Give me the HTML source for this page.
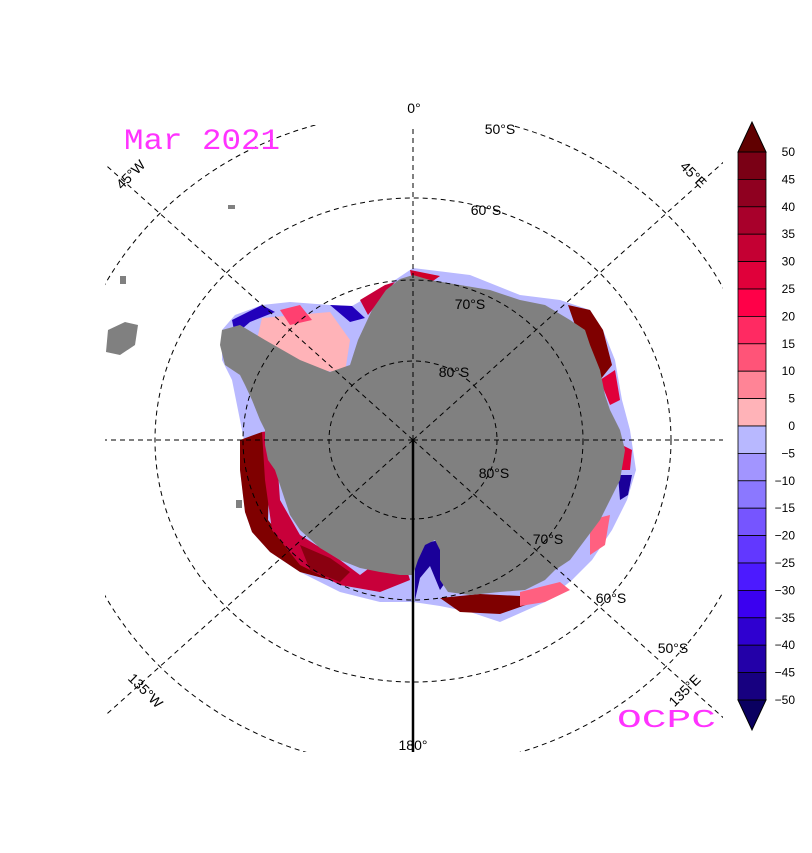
<!DOCTYPE html>
<html><head><meta charset="utf-8"><style>
body{margin:0;background:#fff;}
svg{display:block;font-family:"Liberation Sans",sans-serif;}
</style></head><body>
<svg width="812" height="853" viewBox="0 0 812 853">
<defs><clipPath id="mapclip"><rect x="105" y="125" width="618" height="627"/></clipPath></defs>
<g clip-path="url(#mapclip)">
  <polygon fill="#b9b9ff" points="413,268 470,275 520,295 560,300 590,310 603,330 615,360 622,400 630,430 636,470 627,500 612,530 592,560 572,580 545,602 500,622 470,612 440,606 413,602 380,602 340,592 300,572 270,552 252,532 245,512 240,470 244,440 240,420 236,400 232,380 222,360 222,330 235,315 262,305 290,302 330,305 352,306 380,290"/>
  <g>
    <polygon fill="#7f0000" points="240,440 262,432 270,450 268,520 300,560 330,580 300,572 270,552 252,532 245,512 240,470"/>
    <polygon fill="#c8003a" points="262,432 275,430 280,500 300,535 340,560 360,575 380,560 400,548 410,580 380,592 340,585 300,565 272,530 265,480"/>
    <polygon fill="#8a0010" points="300,545 330,558 350,572 340,582 310,570"/>
    <polygon fill="#9d8cff" points="320,535 360,532 400,540 412,548 400,565 370,560 340,550"/>
    <polygon fill="#1a0099" points="415,545 440,540 447,580 440,590 430,566 420,578 415,600"/>
    <polygon fill="#7f0000" points="440,598 480,594 520,596 540,600 500,614 460,612"/>
    <polygon fill="#ff6080" points="520,592 560,582 570,590 545,602 520,606"/>
    <polygon fill="#7f0000" points="568,305 590,310 603,330 612,365 600,380 590,350 575,325"/>
    <polygon fill="#e0003a" points="600,380 615,370 620,400 610,405"/>
    <polygon fill="#ffb3b8" points="262,318 330,312 350,340 345,372 300,370 255,348"/>
    <polygon fill="#ff4070" points="280,310 300,305 312,320 290,325"/>
    <polygon fill="#2200bb" points="232,320 262,305 275,312 250,322 235,335"/>
    <polygon fill="#2200bb" points="330,305 352,306 365,318 350,322"/>
    <polygon fill="#c8003a" points="360,300 385,285 395,282 380,300 368,315"/>
    <polygon fill="#d0002a" points="410,270 440,276 430,283 412,280"/>
    <polygon fill="#e0003a" points="612,440 632,450 630,470 615,470"/>
    <polygon fill="#1a0099" points="618,475 632,475 628,495 620,500"/>
    <polygon fill="#ff6080" points="590,520 610,515 605,545 590,555"/>
  </g>
  <polygon fill="#808080" points="413,275 430,280 460,285 490,290 520,300 545,305 570,320 585,330 590,345 600,370 605,395 610,410 620,430 625,450 620,480 610,500 600,520 585,540 570,560 555,570 545,580 525,590 500,592 470,595 448,592 440,580 440,550 435,540 425,545 418,560 413,575 400,575 380,572 360,568 340,560 320,548 300,530 290,515 285,500 280,485 275,470 268,460 265,445 265,430 260,420 252,400 245,385 240,375 225,365 220,345 222,330 240,325 265,340 300,360 330,372 350,365 358,340 372,310 386,290 400,279"/>
  <g fill="#808080">
    <polygon points="108,330 125,322 138,325 135,345 120,355 106,352"/>
    <rect x="120" y="276" width="6" height="8"/>
    <rect x="228" y="205" width="7" height="4"/>
    <rect x="236" y="500" width="6" height="8"/>
  </g>
  <g fill="none" stroke="#000" stroke-width="1" stroke-dasharray="5,4">
    <ellipse cx="413" cy="440" rx="84" ry="79"/>
    <ellipse cx="413" cy="440" rx="170" ry="160"/>
    <ellipse cx="413" cy="440" rx="258" ry="242"/>
    <ellipse cx="413" cy="440" rx="350" ry="328"/>
    <line x1="413" y1="440" x2="413" y2="110"/>
    <line x1="413" y1="440" x2="105" y2="440"/>
    <line x1="413" y1="440" x2="723" y2="440"/>
    <line x1="413" y1="440" x2="80" y2="142"/>
    <line x1="413" y1="440" x2="746" y2="142"/>
    <line x1="413" y1="440" x2="80" y2="738"/>
    <line x1="413" y1="440" x2="746" y2="738"/>
  </g>
  <line x1="413" y1="440" x2="413" y2="752" stroke="#000" stroke-width="2.5"/>
</g>
<g font-size="14" fill="#000">
  <text x="414" y="113" text-anchor="middle">0°</text>
  <text x="413" y="750" text-anchor="middle">180°</text>
  <text x="500" y="134" text-anchor="middle">50°S</text>
  <text x="486" y="215" text-anchor="middle">60°S</text>
  <text x="470" y="309" text-anchor="middle">70°S</text>
  <text x="454" y="377" text-anchor="middle">80°S</text>
  <text x="494" y="478" text-anchor="middle">80°S</text>
  <text x="548" y="544" text-anchor="middle">70°S</text>
  <text x="611" y="603" text-anchor="middle">60°S</text>
  <text x="673" y="653" text-anchor="middle">50°S</text>
  <text transform="translate(134,178) rotate(-45)" text-anchor="middle">45°W</text>
  <text transform="translate(690,178) rotate(45)" text-anchor="middle">45°E</text>
  <text transform="translate(142,694) rotate(45)" text-anchor="middle">135°W</text>
  <text transform="translate(688,694) rotate(-45)" text-anchor="middle">135°E</text>
</g>
<text x="124" y="149" font-size="30" fill="#ff33ff" font-family="Liberation Mono,monospace" textLength="156" lengthAdjust="spacingAndGlyphs">Mar 2021</text>
<text x="617" y="727" font-size="26" fill="#ff33ff" font-family="Liberation Mono,monospace" textLength="99" lengthAdjust="spacingAndGlyphs">OCPC</text>
<g id="cbar"></g>
<script>
const cbTicks=[50,45,40,35,30,25,20,15,10,5,0,-5,-10,-15,-20,-25,-30,-35,-40,-45,-50];
const cbColors=["#7a0015","#8f0020","#a8002b","#c40033","#e0003a","#ff0048","#ff2a62","#ff5478","#ff8496","#ffb3b8","#b8b8ff","#a295ff","#8b78ff","#7655ff","#6238ff","#4c1aff","#3b00f0","#2f00d0","#2300a8","#170080"];
(function(){
const g=document.getElementById('cbar');
const ns="http://www.w3.org/2000/svg";
const x0=738,w=28,yTop=152,yBot=700,h=(yBot-yTop)/cbColors.length;
function yOf(i){return yTop+i*h;}
cbColors.forEach((c,i)=>{
  const r=document.createElementNS(ns,'rect');
  r.setAttribute('x',x0);r.setAttribute('y',yOf(i));r.setAttribute('width',w);r.setAttribute('height',h);
  r.setAttribute('fill',c);r.setAttribute('stroke','#000');r.setAttribute('stroke-width','0.8');
  
  
  g.appendChild(r);
});
const t1=document.createElementNS(ns,'polygon');
t1.setAttribute('points',`${x0},${yTop} ${x0+w},${yTop} ${x0+w/2},${yTop-30}`);t1.setAttribute('fill','#600000');t1.setAttribute('stroke','#000');


g.appendChild(t1);
const t2=document.createElementNS(ns,'polygon');
t2.setAttribute('points',`${x0},${yBot} ${x0+w},${yBot} ${x0+w/2},${yBot+30}`);t2.setAttribute('fill','#0a0060');t2.setAttribute('stroke','#000');


g.appendChild(t2);
cbTicks.forEach((v,i)=>{
  const t=document.createElementNS(ns,'text');
  t.setAttribute('x',795);t.setAttribute('y',yOf(i)+4);t.setAttribute('text-anchor','end');t.setAttribute('font-size','12');
  t.textContent=v<0?('\u2212'+Math.abs(v)):String(v);
  
  
  g.appendChild(t);
});
})();
</script>
</svg>
</body></html>
